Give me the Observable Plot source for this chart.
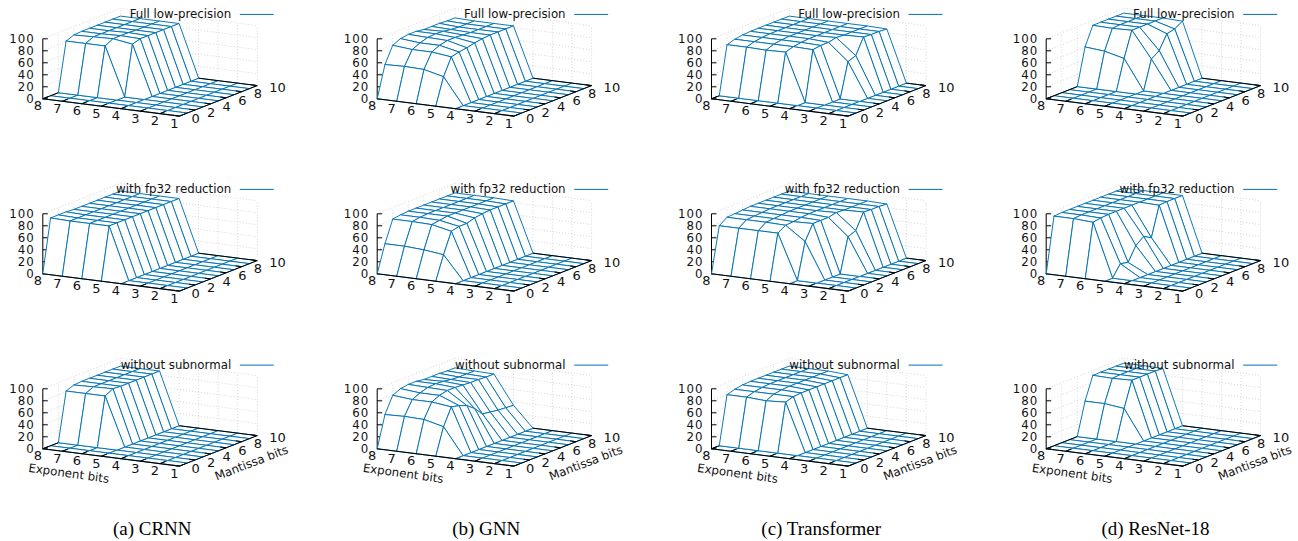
<!DOCTYPE html>
<html><head><meta charset="utf-8">
<style>html,body{margin:0;padding:0;background:#fff}
.zlabel text{letter-spacing:1px}</style>
<script src="https://cdn.jsdelivr.net/npm/d3@7"></script>
<script src="https://cdn.jsdelivr.net/npm/@observablehq/plot@0.6"></script>
</head><body><div id="chart"></div>
<script>
// Rows: exponent bits 8..1. Columns: mantissa bits 0..10. Values in percent.
const exponents = [8,7,6,5,4,3,2,1];
const mantissas = [0,1,2,3,4,5,6,7,8,9,10];
const zero = [0,0,0,0,0,0,0,0,0,0,0];

const crnnFull = [
 [0,0,0,81,86,87,87,87,87,87,87],
 [0,0,0,81,87,87,87,87,87,87,87],
 [0,0,0,81,88,88,88,87,87,87,87],
 [0,0,0,0,83,87,87,87,87,87,87],
 zero,zero,zero,zero];
const crnnFp32 = [
 [0,88,88,88,87,87,87,87,87,87,87],
 [0,87,87,87,87,87,87,87,87,87,87],
 [0,87,87,87,87,87,87,87,87,87,87],
 [0,87,87,87,87,87,87,87,87,87,87],
 zero,zero,zero,zero];
const crnnNoSub = [
 [0,0,0,81,86,87,87,87,87,87,87],
 [0,0,0,81,87,87,87,87,87,87,87],
 [0,0,0,81,88,87,87,87,87,87,87],
 zero,zero,zero,zero,zero];

const gnnFull = [
 [0,52,79,85,87,87,85,85,85,84,84],
 [0,53,76,82,86,87,86,84,83,83,83],
 [0,52,76,82,85,85,84,83,83,83,83],
 [0,44,72,75,77,80,82,83,83,83,83],
 zero,zero,zero,zero];
const gnnFp32 = [
 [0,45,81,83,84,84,84,84,84,84,84],
 [0,45,81,83,84,84,84,84,84,84,84],
 [0,43,80,82,84,84,84,84,84,84,84],
 [0,39,73,76,76,80,82,83,83,83,83],
 zero,zero,zero,zero];
const gnnNoSub = [
 [0,52,79,85,87,87,85,85,85,84,84],
 [0,53,76,82,86,87,86,84,83,83,83],
 [0,52,76,82,85,85,84,83,83,82,82],
 [0,44,72,69,64,54,40,38,36,35,34],
 zero,zero,zero,zero];

const transformerFull = [
 [0,0,80,84,86,87,87,87,87,87,87],
 [0,0,80,84,86,87,87,87,87,87,87],
 [0,0,79,84,86,87,87,87,87,87,87],
 [0,0,80,84,86,87,87,87,87,87,87],
 [0,0,0,83,85,85,88,87,87,87,87],
 [0,0,0,0,0,57,62,88,87,87,86],
 zero,zero];
const transformerFp32 = [
 [0,75,84,85,86,87,87,87,87,87,87],
 [0,75,84,85,86,87,87,87,87,87,87],
 [0,75,84,85,86,87,87,87,87,87,87],
 [0,75,83,84,86,87,87,87,87,87,87],
 [0,0,60,85,85,85,88,87,87,87,87],
 [0,0,0,0,0,57,62,88,87,87,86],
 zero,zero];
const transformerNoSub = [
 [0,0,80,84,86,87,87,87,87,87,87],
 [0,0,80,84,86,87,87,87,87,87,87],
 [0,0,78,84,86,87,87,87,87,87,87],
 [0,0,80,84,85,85,85,85,85,85,85],
 zero,zero,zero,zero];

const resnetFull = [
 [0,0,0,0,0,61,92,92,92,92,92],
 [0,0,0,0,0,58,91,92,92,92,92],
 [0,0,0,0,0,50,92,92,92,92,92],
 [0,0,0,0,0,0,48,57,80,83,91],
 zero,zero,zero,zero];
const resnetFp32 = [
 [0,91,92,92,92,92,92,92,92,92,92],
 [0,91,92,92,92,92,92,92,92,92,92],
 [0,89,91,92,92,92,92,92,92,92,92],
 [0,0,19,16,39,49,42,91,92,92,92],
 zero,zero,zero,zero];
const resnetNoSub = [
 [0,0,0,0,0,54,92,92,92,92,92],
 [0,0,0,0,0,54,91,92,92,92,92],
 [0,0,0,0,0,50,92,92,92,92,91],
 zero,zero,zero,zero,zero];

const models = ["(a) CRNN","(b) GNN","(c) Transformer","(d) ResNet-18"];
const variants = ["Full low-precision","with fp32 reduction","without subnormal"];
const surfaces = [
 [crnnFull,crnnFp32,crnnNoSub],
 [gnnFull,gnnFp32,gnnNoSub],
 [transformerFull,transformerFp32,transformerNoSub],
 [resnetFull,resnetFp32,resnetNoSub]];
const zTicks = [0,20,40,60,80,100];
const mTicks = [0,2,4,6,8,10];

// Oblique projection of the 3D box, in picture units
const panelLeft = [42.3,376.7,711,1045.7];
const panelBase = [98.3,273.3,448.3];
const X = (c,e,m) => panelLeft[c] + (8-e)*19.53 + m*7.77;
const Y = (r,e,m,z=0) => panelBase[r] + (8-e)*2.47 - m*3.05 - z*0.6;

const BLUE = "#0072b2", FONT = "DejaVu Sans", GRID = "#c4c4c4";
const grid=[], border=[], front=[], ticks=[], flat=[], raised=[];
const zLabels=[], eLabels=[], mLabels=[], legends=[], legendKeys=[], captions=[], xTitles=[], yTitles=[];
const seg = (arr,x1,y1,x2,y2) => arr.push({x1,y1,x2,y2});

surfaces.forEach((col,c) => {
  col.forEach((mat,r) => {
    const P = (e,m,z=0) => ({x:X(c,e,m),y:Y(r,e,m,z)});
    const link = (arr,a,b) => seg(arr,a.x,a.y,b.x,b.y);
    // back walls
    zTicks.slice(1).forEach(z => {
      link(grid,P(8,0,z),P(8,10,z));
      link(grid,P(8,10,z),P(1,10,z));
    });
    mTicks.forEach(m => link(grid,P(8,m,0),P(8,m,100)));
    exponents.slice(1).forEach(e => link(grid,P(e,10,0),P(e,10,100)));
    // base box
    link(border,P(8,0),P(8,10)); link(border,P(8,10),P(1,10)); link(border,P(1,10),P(1,0));
    link(front,P(8,0),P(1,0));
    // z axis
    link(border,P(8,0),P(8,0,100));
    zTicks.forEach(z => {
      const p=P(8,0,z); seg(border,p.x,p.y,p.x+5,p.y);
      zLabels.push({x:p.x-8,y:p.y+0.4,t:String(z)});
    });
    exponents.forEach(e => {
      link(ticks,P(e,0),P(e,0.7));
      const p=P(e,0); eLabels.push({x:p.x-5,y:p.y+7.4,t:String(e)});
    });
    mTicks.forEach(m => {
      link(ticks,P(1,m),P(1.3,m));
      const p=P(1,m); mLabels.push({x:p.x+12,y:p.y+2.6,t:String(m)});
    });
    // surface cells, far to near
    exponents.slice(0,-1).forEach((e,i) => {
      for (let j=mantissas.length-2;j>=0;j--) {
        const m=mantissas[j];
        const a=mat[i][j],b=mat[i][j+1],d=mat[i+1][j+1],f=mat[i+1][j];
        const isFlat=(a+b+d+f)===0, id=`${c}-${r}-${i}-${j}`;
        const corners=[P(e,m,a),P(e,m+1,b),P(e-1,m+1,d),P(e-1,m,f),P(e,m,a)];
        corners.forEach(p => (isFlat?flat:raised).push({id,x:p.x,y:p.y}));
      }
    });
    const l=panelLeft[c], b=panelBase[r];
    legends.push({x:l+188.4,y:b-84.4+(r===2?0.7:0),t:variants[r]});
    seg(legendKeys,l+197,b-84.4+(r===2?0.7:0),l+231,b-84.4+(r===2?0.7:0));
    if (r===2) {
      xTitles.push({x:l+26,y:b+24.8,t:"Exponent bits"});
      yTitles.push({x:l+208.7,y:b+14.3,t:"Mantissa bits"});
    }
  });
  captions.push({x:[151.7,485.7,820.7,1155][c],y:528,t:models[c]});
});

const links = (arr,o) => Plot.link(arr,{x1:"x1",y1:"y1",x2:"x2",y2:"y2",...o});
const cells = arr => Plot.line(arr,{x:"x",y:"y",z:"id",fill:"white",stroke:BLUE,strokeWidth:0.95,strokeLinejoin:"round",curve:"linear"});
const label = (arr,o) => Plot.text(arr,{x:"x",y:"y",text:"t",fontFamily:FONT,fontSize:11.8,fill:"#111",lineAnchor:"middle",...o});

const chart = Plot.plot({
  width:1298,height:541,
  marginTop:0,marginRight:0,marginBottom:0,marginLeft:0,
  x:{domain:[0,1298],range:[0,1298],axis:null},
  y:{domain:[0,541],range:[0,541],axis:null},
  style:{background:"white"},
  marks:[
    links(grid,{stroke:GRID,strokeWidth:0.7,strokeDasharray:"1,2"}),
    cells(flat),
    links(border,{stroke:"#000",strokeWidth:1}),
    links(ticks,{stroke:"#000",strokeWidth:1}),
    cells(raised),
    links(front,{stroke:"#000",strokeWidth:1.1}),
    label(zLabels,{textAnchor:"end",fontSize:11.8,className:"zlabel"}),
    label(eLabels,{textAnchor:"middle",fontSize:13}),
    label(mLabels,{textAnchor:"start",fontSize:13}),
    label(legends,{textAnchor:"end"}),
    links(legendKeys,{stroke:BLUE,strokeWidth:1}),
    label(xTitles,{textAnchor:"middle",rotate:8}),
    label(yTitles,{textAnchor:"middle",rotate:-21}),
    label(captions,{textAnchor:"middle",fontFamily:"Liberation Serif",fontSize:19,fill:"#000"})
  ]
});
document.getElementById("chart").appendChild(chart);
</script></body></html>
